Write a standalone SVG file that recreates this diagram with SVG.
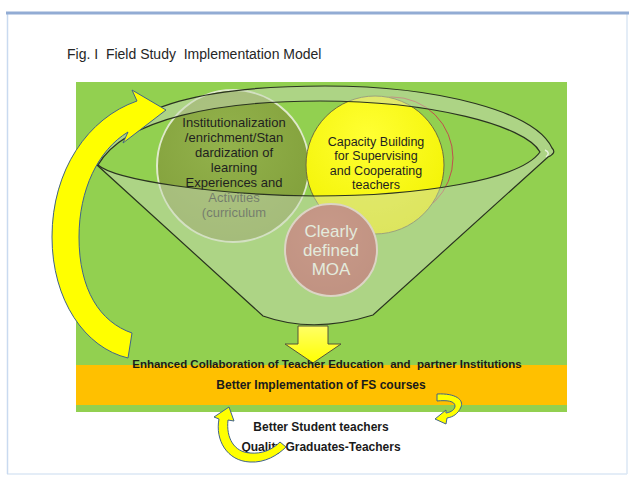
<svg xmlns="http://www.w3.org/2000/svg" width="629" height="477" viewBox="0 0 629 477">
  <style>
    .sans{font-family:"Liberation Sans",Arial,sans-serif}
    .title{font-size:14px;fill:#262626;white-space:pre}
    .node-text{font-size:13px;fill:#1f1f1f;text-anchor:middle}
    .cap-text{font-size:12.5px;fill:#1f1f1f;text-anchor:middle}
    .moa-text{font-size:17px;fill:#ffffff;text-anchor:middle}
    .result{font-size:12px;font-weight:bold;fill:#1a1a1a;text-anchor:middle;white-space:pre}
    .arrow{fill:#ffff00;stroke:#41648a;stroke-width:1;stroke-linejoin:round}
    .glass{fill:#c8d7b9;fill-opacity:0.5}
    .edge{fill:none;stroke:#2a3320;stroke-width:1.2}
  </style>
  <defs>
    <radialGradient id="olive" cx="0.45" cy="0.35" r="0.7">
      <stop offset="0" stop-color="#93b24c"/>
      <stop offset="1" stop-color="#819f3a"/>
    </radialGradient>
    <radialGradient id="yellow" cx="0.45" cy="0.3" r="0.75">
      <stop offset="0" stop-color="#ffff33"/>
      <stop offset="1" stop-color="#f2f200"/>
    </radialGradient>
    <radialGradient id="rose" cx="0.45" cy="0.35" r="0.7">
      <stop offset="0" stop-color="#c95c59"/>
      <stop offset="1" stop-color="#b84c49"/>
    </radialGradient>
    <linearGradient id="down" x1="0" y1="0" x2="0" y2="1">
      <stop offset="0" stop-color="#ffff66"/>
      <stop offset="1" stop-color="#ffff00"/>
    </linearGradient>
  </defs>

  <!-- page -->
  <rect x="0" y="0" width="629" height="477" fill="#ffffff"/>
  <g id="page-frame">
    <line x1="7" y1="474" x2="627" y2="474" stroke="#dbe7f5" stroke-width="1.5"/>
    <line x1="7.5" y1="13" x2="7.5" y2="474" stroke="#c9daf0" stroke-width="1.5"/>
    <line x1="627" y1="13" x2="627" y2="474" stroke="#dbe7f5" stroke-width="1.5"/>
    <line x1="6" y1="13" x2="629" y2="13" stroke="#92acd4" stroke-width="3"/>
  </g>

  <text class="sans title" x="67" y="59">Fig. I  Field Study  Implementation Model</text>

  <!-- panel background -->
  <g id="panel">
    <rect x="76" y="82" width="491" height="330" fill="#92d050"/>
    <rect x="76" y="365" width="491" height="40" fill="#ffc000"/>
  </g>

  <!-- circles held in the funnel -->
  <g id="node-partner-ring">
    <circle cx="392" cy="158" r="61" fill="none" stroke="#c0504d" stroke-width="1"/>
  </g>
  <g id="node-curriculum">
    <circle cx="233" cy="166" r="76" fill="url(#olive)" stroke="#dfe9cb" stroke-width="2"/>
    <text class="sans node-text" x="234" y="127">Institutionalization</text>
    <text class="sans node-text" x="234" y="142">/enrichment/Stan</text>
    <text class="sans node-text" x="234" y="157">dardization of</text>
    <text class="sans node-text" x="234" y="172">learning</text>
    <text class="sans node-text" x="234" y="187">Experiences and</text>
    <text class="sans node-text" x="234" y="202">Activities</text>
    <text class="sans node-text" x="234" y="217">(curriculum</text>
  </g>
  <g id="node-capacity">
    <circle cx="375" cy="165" r="69" fill="url(#yellow)" stroke="#6e6e40" stroke-width="1"/>
    <text class="sans cap-text" x="376" y="146">Capacity Building</text>
    <text class="sans cap-text" x="376" y="160">for Supervising</text>
    <text class="sans cap-text" x="376" y="175">and Cooperating</text>
    <text class="sans cap-text" x="376" y="189">teachers</text>
  </g>
  <g id="node-moa">
    <circle cx="331" cy="250" r="46" fill="url(#rose)" stroke="#f0d0d0" stroke-width="2"/>
    <text class="sans moa-text" x="331" y="237">Clearly</text>
    <text class="sans moa-text" x="331" y="256">defined</text>
    <text class="sans moa-text" x="331" y="275">MOA</text>
  </g>

  <!-- funnel: translucent front wall and rim, then outlines -->
  <g id="funnel">
    <path class="glass" d="M98,165 C115,180 215,195 315,196 C420,196 520,180 540,152 L552,148 Q557,153 548,157 L373,315 Q313,334 263,316 Z"/>
    <path class="glass" d="M97,165 C118,100 220,86 325,86 C440,86 535,112 552,148 L540,152 C525,125 430,101 320,101 C220,101 125,118 98,165 Z"/>
    <path d="M545,150 Q551,153 546,157" fill="none" stroke="#ffffff" stroke-opacity="0.7" stroke-width="1.5"/>
    <path class="edge" d="M97,165 C118,100 220,86 325,86 C440,86 535,112 552,148 Q557,153 548,157 L373,315 Q313,334 263,316 Z"/>
    <path class="edge" d="M98,165 C125,118 220,101 320,101 C430,101 525,125 540,152 C520,180 420,196 315,196 C215,195 115,180 98,165 Z"/>
  </g>

  <!-- connectors -->
  <g id="connectors">
    <path id="feedback-loop" class="arrow" d="M128,358 C85,348 52,300 52,237 C52,170 88,118 137,101 L132,90 L166,110 L123,143 L128,132 C98,150 79,190 79,237 C79,290 100,322 132,333 Z"/>
    <path id="funnel-output" d="M298,326 L328,326 L328,344 L341,344 L313,363 L285,344 L298,344 Z" fill="url(#down)" stroke="#55553a" stroke-width="1" stroke-linejoin="round"/>
    <path id="return-right" class="arrow" d="M437,394 C456,393 464,400 461,407 C458,414 453,417 447,418 L446,424 L435,419 L446,410 L446,413 C452,412 455,409 455,406 C455,401 447,400 437,401 Z"/>
  </g>

  <!-- outcome texts -->
  <g id="outcomes">
    <text class="sans result" x="327" y="368" style="font-size:11.5px">Enhanced Collaboration of Teacher Education  and  partner Institutions</text>
    <text class="sans result" x="321" y="389">Better Implementation of FS courses</text>
    <text class="sans result" x="321" y="431">Better Student teachers</text>
    <text class="sans result" x="321" y="451">Quality Graduates-Teachers</text>
  </g>

  <g id="connectors-lower">
    <path id="return-left" class="arrow" d="M286,447 C278,455 265,463 250,462 C227,461 215,440 219,419 L214,417 L229,407 L234,421 L228,420 C226,438 234,452 250,453 C262,454 272,450 280,442 Z"/>
  </g>
</svg>
